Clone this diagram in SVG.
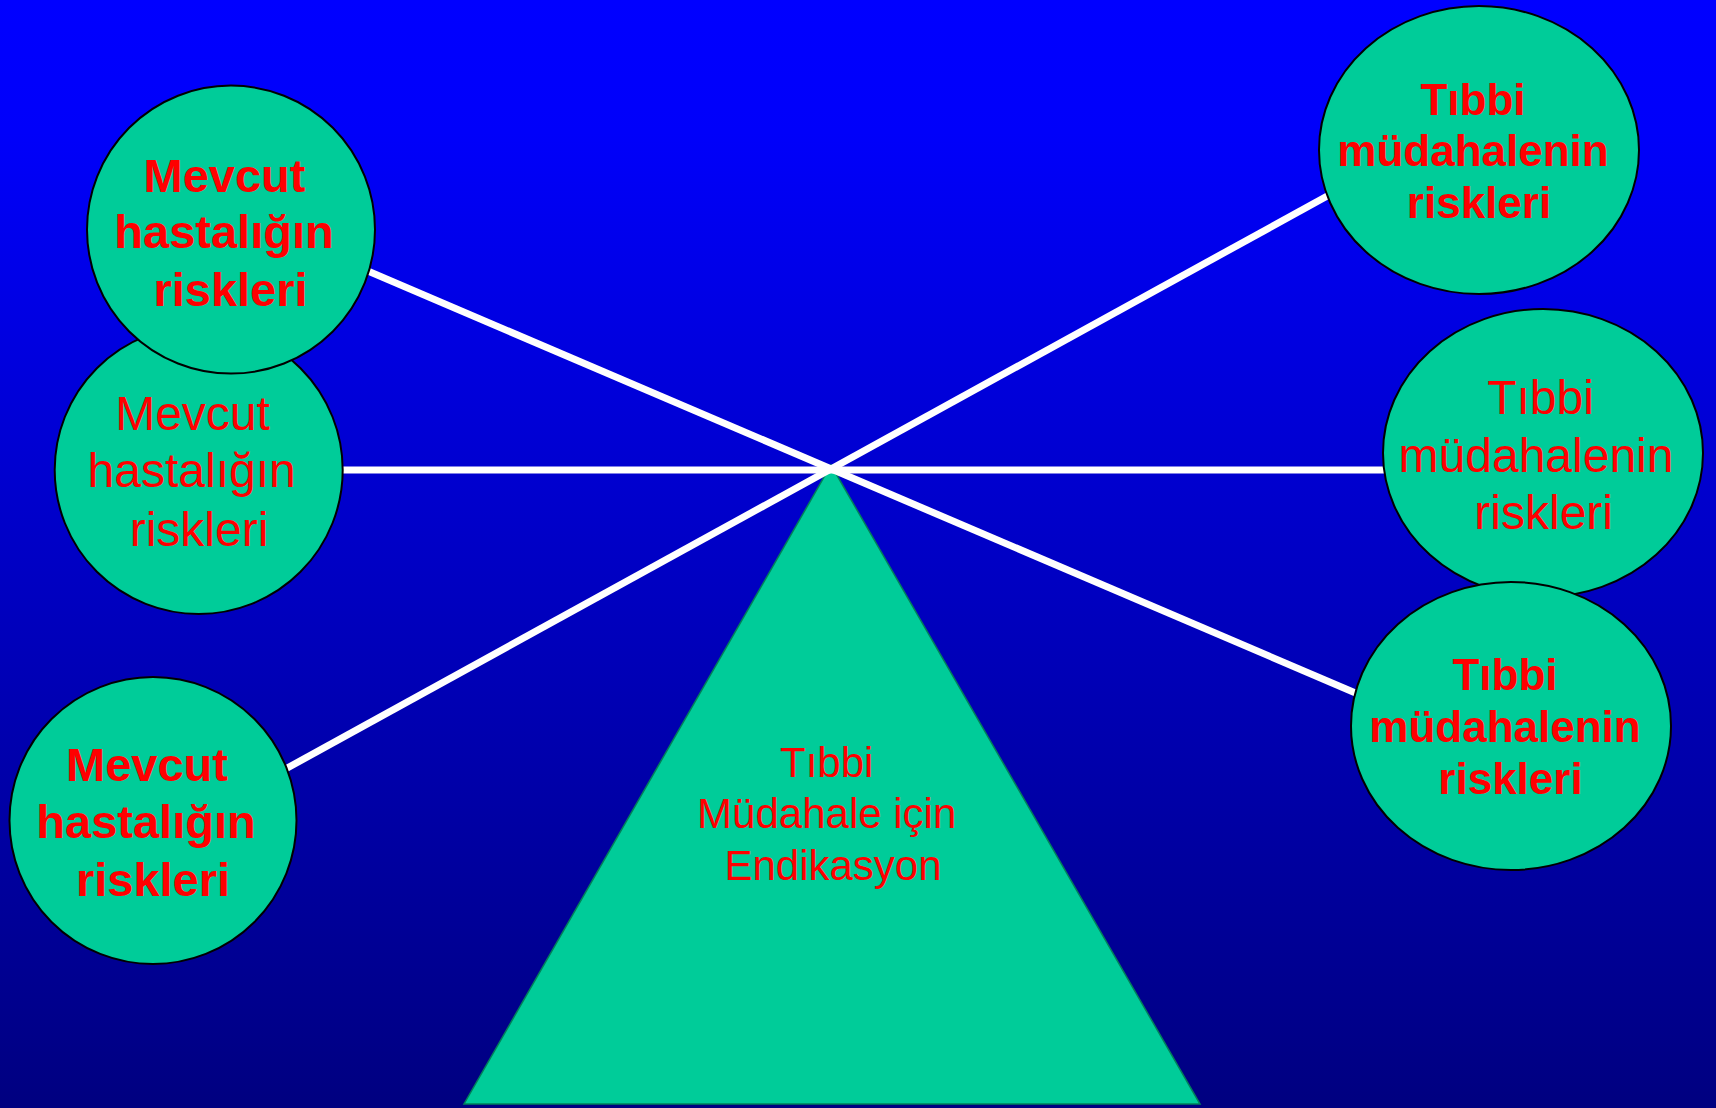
<svg xmlns="http://www.w3.org/2000/svg" width="1716" height="1108" viewBox="0 0 1716 1108">
<defs>
<linearGradient id="bg" x1="0" y1="0" x2="0" y2="1">
<stop offset="0" stop-color="#0000FF"/>
<stop offset="0.12" stop-color="#0000FA"/>
<stop offset="1" stop-color="#000080"/>
</linearGradient>
</defs>
<style>
.node{fill:#00CC99;stroke:#000000;stroke-width:2}
.tri{fill:#00CC99;stroke:#00805A;stroke-width:1.5}
.conn{stroke:#FFFFFF;stroke-width:7;fill:none}
.b{font-family:"Liberation Sans",Arial,sans-serif;font-weight:bold;fill:#FF0000;text-anchor:middle}
.r{font-family:"Liberation Sans",Arial,sans-serif;fill:#FF0000;text-anchor:middle}
.bl{font-size:47px}
.br{font-size:44px}
.rr{font-size:48px}
.rt{font-size:42px}
</style>
<rect x="0" y="0" width="1716" height="1108" fill="url(#bg)"/>
<g id="triangle">
<polygon class="tri" points="831,465 1200,1104 464,1104"/>
<text class="r rt" x="826.7" y="777">Tıbbi</text>
<text class="r rt" x="826.7" y="828">Müdahale için</text>
<text class="r rt" x="833" y="879.5">Endikasyon</text>
</g>
<g id="connectors">
<line class="conn" x1="300" y1="242" x2="1400" y2="712"/>
<line class="conn" x1="250" y1="470" x2="1450" y2="470"/>
<line class="conn" x1="220" y1="805" x2="1400" y2="156"/>
</g>
<g id="node-b">
<ellipse class="node" cx="198.7" cy="470" rx="144" ry="144"/>
<text class="r rr" x="192.5" y="429.6">Mevcut</text>
<text class="r rr" x="191.7" y="486.8">hastalığın</text>
<text class="r rr" x="199" y="545.7">riskleri</text>
</g>
<g id="node-a">
<ellipse class="node" cx="231" cy="229.6" rx="144" ry="144"/>
<text class="b bl" x="224.5" y="191.5">Mevcut</text>
<text class="b bl" x="224" y="247.5">hastalığın</text>
<text class="b bl" x="230.5" y="305.7">riskleri</text>
</g>
<g id="node-c">
<ellipse class="node" cx="153" cy="820.5" rx="143.5" ry="143.5"/>
<text class="b bl" x="147" y="780.7">Mevcut</text>
<text class="b bl" x="146" y="838">hastalığın</text>
<text class="b bl" x="153" y="896">riskleri</text>
</g>
<g id="node-e">
<ellipse class="node" cx="1543" cy="453" rx="160" ry="144"/>
<text class="r rr" x="1540.5" y="413.6">Tıbbi</text>
<text class="r rr" x="1536" y="472">müdahalenin</text>
<text class="r rr" x="1543.7" y="529.4">riskleri</text>
</g>
<g id="node-f">
<ellipse class="node" cx="1511" cy="726" rx="160" ry="144"/>
<text class="b br" x="1505" y="690">Tıbbi</text>
<text class="b br" x="1505" y="742">müdahalenin</text>
<text class="b br" x="1510.5" y="794">riskleri</text>
</g>
<g id="node-d">
<ellipse class="node" cx="1479" cy="150" rx="160" ry="144"/>
<text class="b br" x="1473" y="115">Tıbbi</text>
<text class="b br" x="1473" y="165.7">müdahalenin</text>
<text class="b br" x="1479" y="217.7">riskleri</text>
</g>
</svg>
